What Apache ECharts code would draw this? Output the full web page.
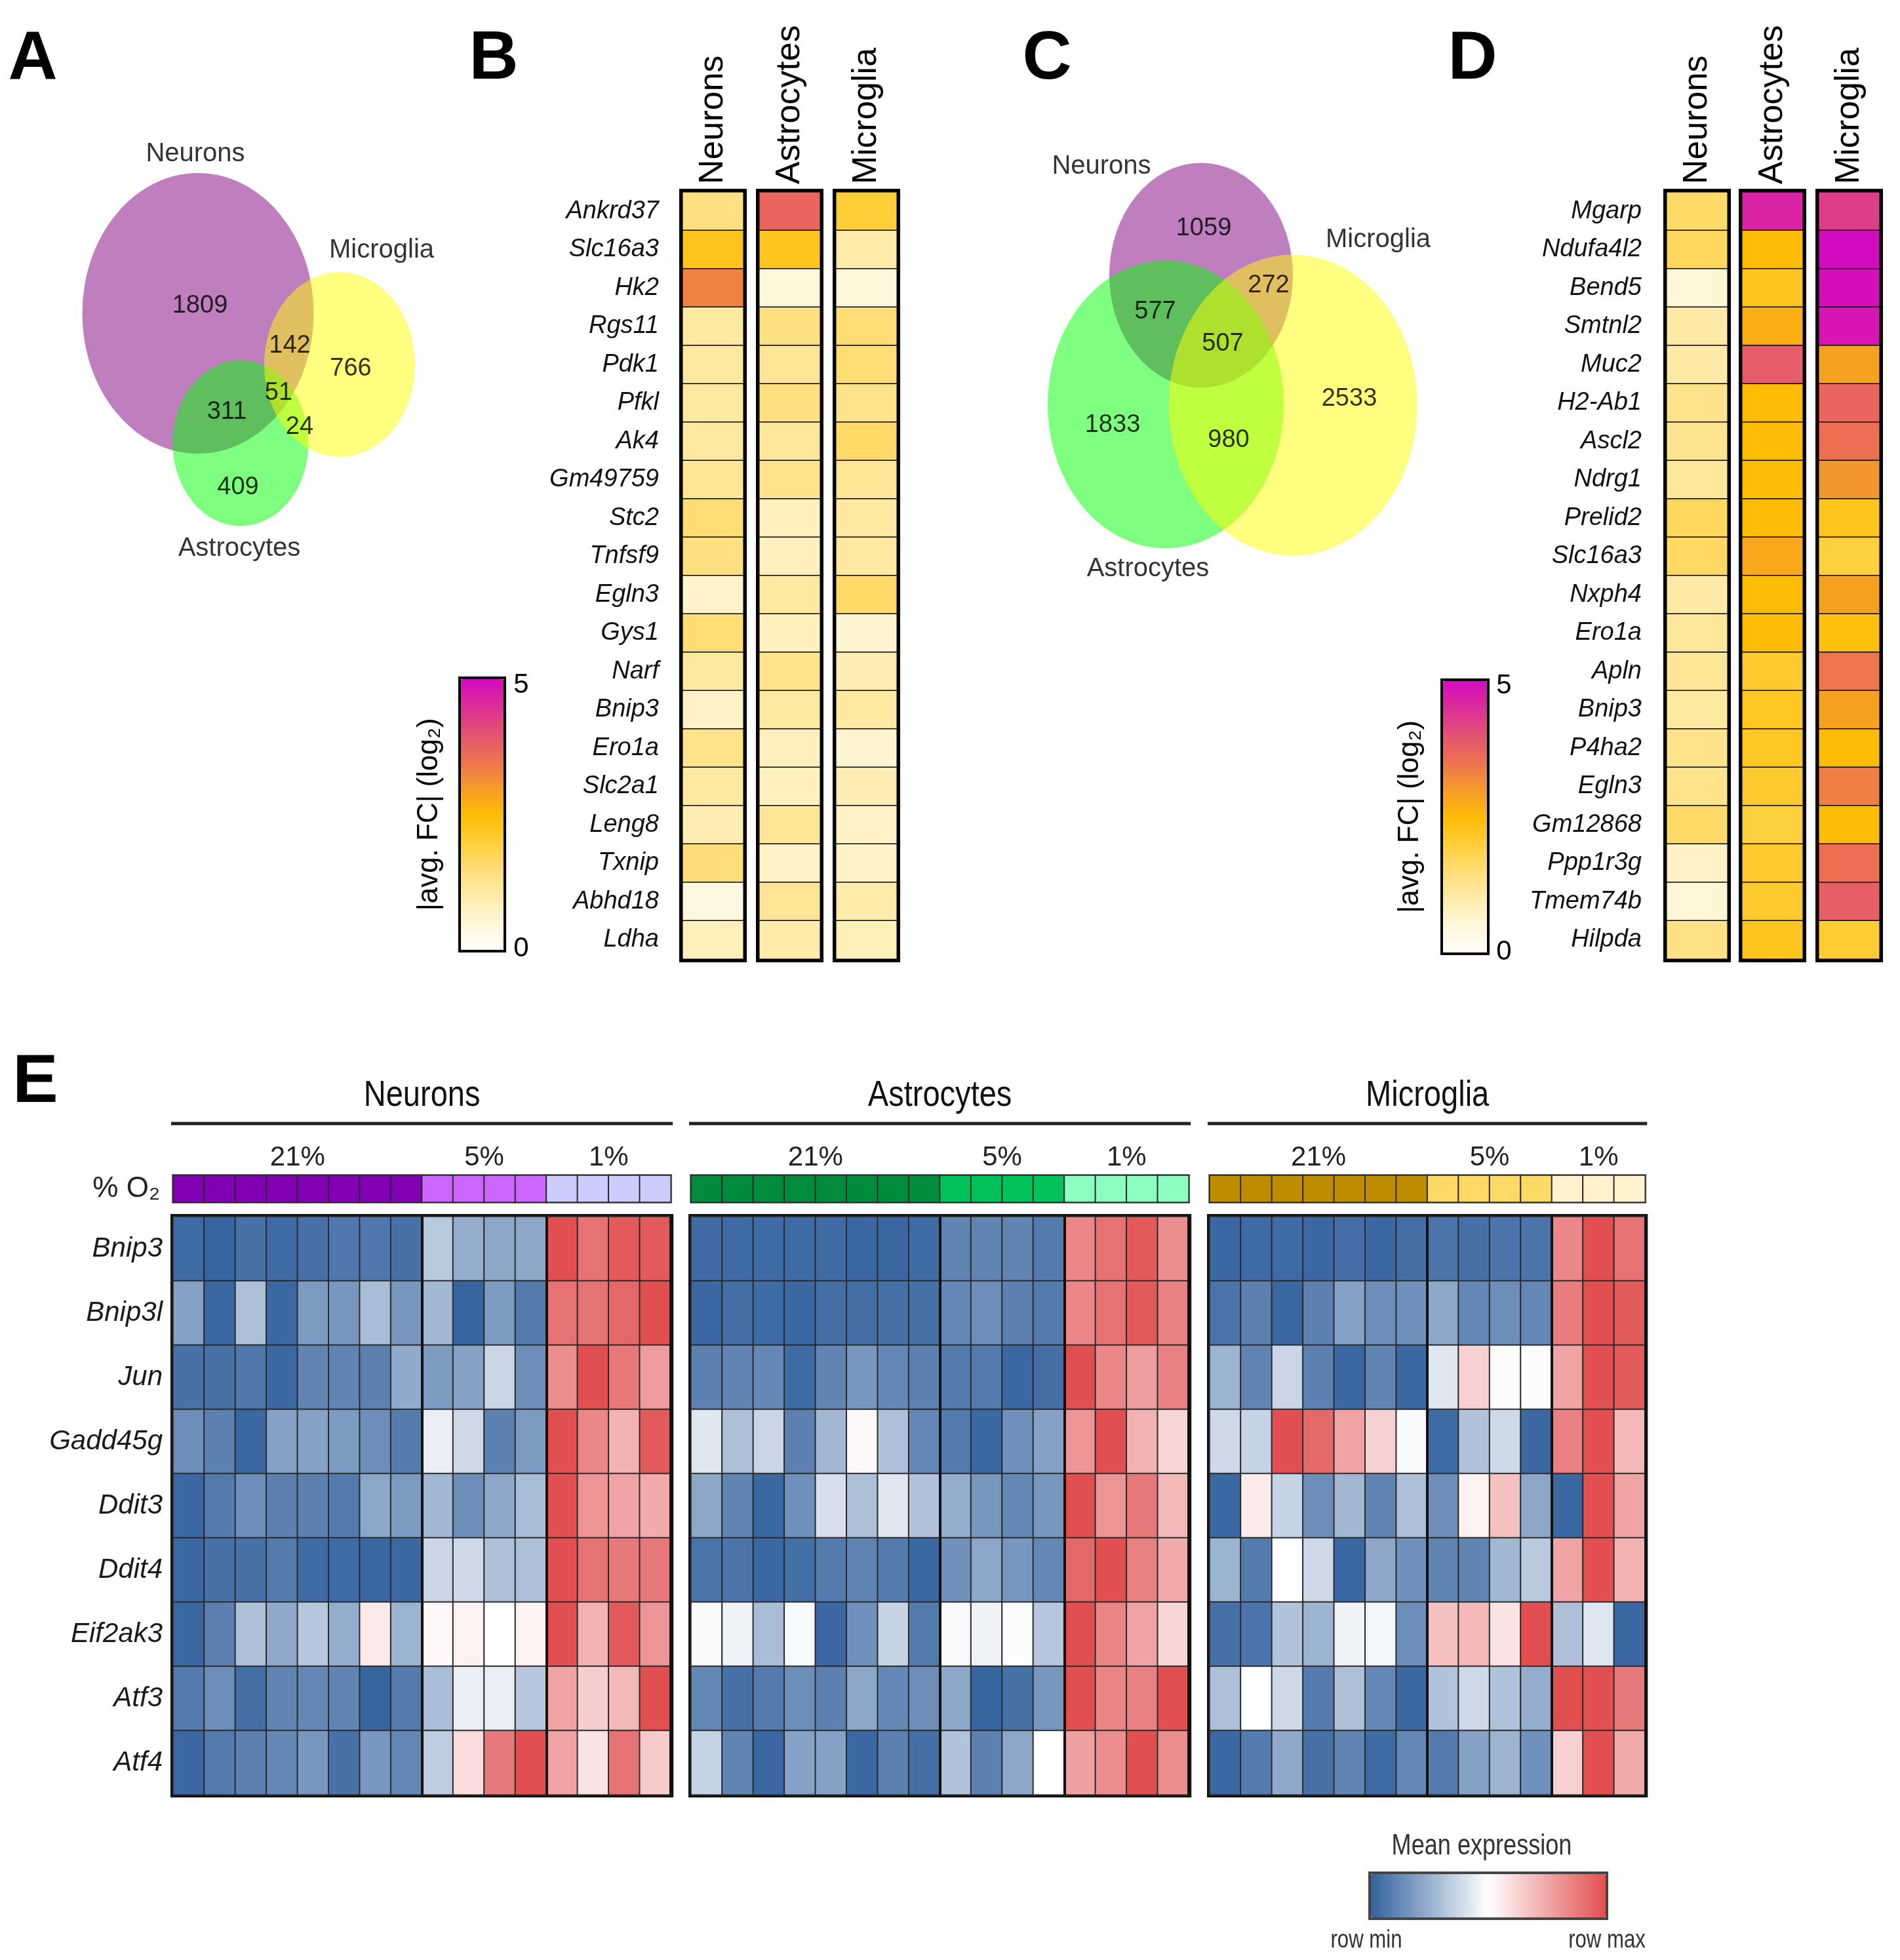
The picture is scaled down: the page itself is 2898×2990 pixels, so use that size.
<!DOCTYPE html>
<html><head><meta charset="utf-8">
<script src="https://cdn.jsdelivr.net/npm/echarts@6/dist/echarts.min.js"></script>
<style>html,body{margin:0;padding:0;background:#fff}#c{width:2898px;height:2990px}</style>
</head><body><div id="c"></div><script>
// ================= DATA =================
const cellTypes = ['Neurons', 'Astrocytes', 'Microglia'];
// Venn region order: [N only, A only, M only, N∩A, N∩M, A∩M, N∩A∩M]
const vennACounts = [1809, 409, 766, 311, 142, 24, 51];
const vennCCounts = [1059, 1833, 2533, 577, 272, 980, 507];

const genesB = ['Ankrd37','Slc16a3','Hk2','Rgs11','Pdk1','Pfkl','Ak4','Gm49759','Stc2','Tnfsf9','Egln3','Gys1','Narf','Bnip3','Ero1a','Slc2a1','Leng8','Txnip','Abhd18','Ldha'];
const fcBNeurons = [1.4,2.25,3.3,1.1,1.1,1.1,1.1,1.2,1.5,1.4,0.65,1.5,1.1,0.7,1.3,1.1,0.9,1.45,0.4,0.85];
const fcBAstro   = [3.7,2.25,0.5,1.4,1.2,1.4,1.15,1.3,0.8,0.8,1.1,0.8,1.3,1.1,0.8,0.8,1.2,0.7,1.2,1.0];
const fcBMicro   = [2.0,1.0,0.5,1.5,1.5,1.3,1.6,1.2,1.1,1.1,1.6,0.6,0.9,1.1,0.6,0.9,0.7,0.7,1.0,0.85];

const genesD = ['Mgarp','Ndufa4l2','Bend5','Smtnl2','Muc2','H2-Ab1','Ascl2','Ndrg1','Prelid2','Slc16a3','Nxph4','Ero1a','Apln','Bnip3','P4ha2','Egln3','Gm12868','Ppp1r3g','Tmem74b','Hilpda'];
const fcDNeurons = [1.6,1.7,0.55,1.05,1.05,1.3,1.25,1.15,1.7,1.65,1.05,1.15,1.2,1.1,1.3,1.3,1.6,0.7,0.55,1.35];
const fcDAstro   = [4.65,2.5,2.25,2.7,3.85,2.5,2.5,2.5,2.5,2.8,2.5,2.5,2.1,2.2,2.2,2.1,1.95,2.1,2.1,2.25];
const fcDMicro   = [4.3,5.0,4.95,4.85,2.9,3.7,3.55,3.05,2.25,1.95,2.9,2.4,3.45,2.9,2.5,3.35,2.5,3.55,3.8,2.05];
const fcTicks = ['0', '5'];

const genesE = ['Bnip3','Bnip3l','Jun','Gadd45g','Ddit3','Ddit4','Eif2ak3','Atf3','Atf4'];
const o2Levels = ['21%', '5%', '1%'];
const samplesPerLevel = [[8,4,4],[8,4,4],[7,4,3]];
const exprNeurons = [
  [0.03,0.01,0.05,0.03,0.05,0.07,0.07,0.05, 0.33,0.24,0.22,0.22, 1.0,0.9,0.97,0.97],
  [0.2,0.02,0.3,0.02,0.18,0.17,0.29,0.17, 0.27,0.01,0.18,0.08, 0.9,0.9,0.93,1.0],
  [0.05,0.05,0.07,0.02,0.11,0.11,0.1,0.23, 0.18,0.2,0.37,0.14, 0.82,1.0,0.88,0.78],
  [0.14,0.1,0.02,0.2,0.2,0.18,0.14,0.08, 0.45,0.38,0.1,0.18, 1.0,0.84,0.72,0.97],
  [0.02,0.08,0.14,0.1,0.1,0.08,0.22,0.18, 0.27,0.14,0.22,0.29, 1.0,0.8,0.76,0.74],
  [0.02,0.05,0.05,0.08,0.03,0.03,0.02,0.02, 0.37,0.38,0.3,0.3, 1.0,0.9,0.88,0.88],
  [0.02,0.1,0.3,0.23,0.32,0.24,0.56,0.26, 0.52,0.54,0.5,0.54, 1.0,0.72,0.97,0.8],
  [0.08,0.14,0.04,0.11,0.12,0.11,0.01,0.08, 0.29,0.45,0.45,0.32, 0.76,0.64,0.7,1.0],
  [0.02,0.08,0.1,0.12,0.17,0.05,0.17,0.12, 0.34,0.6,0.88,1.0, 0.76,0.58,0.9,0.65]
];
const exprAstro = [
  [0.03,0.03,0.03,0.03,0.03,0.02,0.02,0.03, 0.11,0.11,0.11,0.08, 0.84,0.9,0.97,0.82],
  [0.02,0.04,0.03,0.02,0.04,0.04,0.05,0.05, 0.12,0.14,0.1,0.08, 0.84,0.9,0.97,0.86],
  [0.1,0.11,0.12,0.03,0.11,0.17,0.12,0.1, 0.08,0.08,0.02,0.04, 1.0,0.84,0.78,0.86],
  [0.42,0.3,0.37,0.1,0.27,0.52,0.3,0.12, 0.08,0.02,0.15,0.2, 0.8,1.0,0.72,0.62],
  [0.22,0.11,0.02,0.15,0.4,0.3,0.42,0.31, 0.24,0.17,0.12,0.17, 1.0,0.8,0.88,0.7],
  [0.06,0.06,0.02,0.04,0.08,0.11,0.08,0.02, 0.15,0.22,0.17,0.12, 0.93,1.0,0.86,0.74],
  [0.48,0.46,0.29,0.48,0.02,0.15,0.36,0.08, 0.48,0.46,0.49,0.32, 1.0,0.85,0.76,0.62],
  [0.12,0.05,0.08,0.14,0.1,0.22,0.12,0.14, 0.22,0.01,0.05,0.17, 1.0,0.85,0.86,1.0],
  [0.36,0.11,0.02,0.2,0.2,0.02,0.1,0.04, 0.31,0.1,0.22,0.5, 0.77,0.82,1.0,0.82]
];
const exprMicro = [
  [0.02,0.03,0.03,0.02,0.04,0.02,0.04, 0.06,0.05,0.06,0.06, 0.84,1.0,0.9],
  [0.06,0.1,0.02,0.1,0.2,0.14,0.15, 0.22,0.12,0.14,0.12, 0.87,1.0,0.97],
  [0.26,0.11,0.37,0.1,0.02,0.11,0.02, 0.42,0.63,0.51,0.49, 0.76,1.0,0.97],
  [0.38,0.36,1.0,0.93,0.76,0.63,0.48, 0.03,0.31,0.38,0.02, 0.86,1.0,0.7],
  [0.02,0.56,0.36,0.14,0.27,0.11,0.3, 0.14,0.54,0.68,0.22, 0.02,1.0,0.76],
  [0.26,0.08,0.5,0.38,0.02,0.22,0.15, 0.11,0.11,0.27,0.33, 0.76,1.0,0.72],
  [0.05,0.06,0.31,0.26,0.46,0.47,0.14, 0.68,0.7,0.58,1.0, 0.3,0.42,0.02],
  [0.3,0.5,0.38,0.08,0.3,0.12,0.02, 0.31,0.38,0.31,0.24, 1.0,1.0,0.88],
  [0.02,0.08,0.23,0.05,0.11,0.03,0.12, 0.08,0.2,0.26,0.15, 0.63,1.0,0.74]
];

// ================= STYLE / LAYOUT =================
const FONT = "'Liberation Sans', Arial, Helvetica, sans-serif";
const NARROW = "'Liberation Sans Narrow', 'Arial Narrow', 'Liberation Sans', Arial, sans-serif";
const VENN_COLORS = ['#800080', '#00FF00', '#FFFF00'];
const FC_COLORS = ['#FFFEFA','#FFF7DA','#FFEBAA','#FFDD75','#FFCE38','#FEBC05','#F59A2A','#ED7250','#E35272','#DC2E98','#D40AC0'];
const EXPR_COLORS = ['#33629E', '#FFFFFF', '#E14F50'];
const STRIP_COLORS = [['#8200B4','#CC66FF','#CCCCFF'], ['#008C3C','#00C25A','#8CFFC0'], ['#BF8C00','#FFD966','#FFF2CC']];

const VENN_A = { grid:{left:100, top:180, width:620, height:720},
  ellipses:[[202,298,353,428],[267,496,207,253],[418,376,230,282]],
  regions:[[205,287],[263,564],[435,383],[246,449],[342,348],[357,472],[325,420]],
  names:[[198,55],[265,657],[482,202]] };
const VENN_C = { grid:{left:1560, top:180, width:660, height:720},
  ellipses:[[272,240,280,343],[218,437,360,439],[412,438,379,459]],
  regions:[[276,169],[137,469],[498,429],[202,296],[375,256],[314,492],[305,345]],
  names:[[120,74],[191,688],[542,186]] };
const FC_B = { lefts:[1041,1158,1275], width:93, top:293, height:1170, border:10, labelMargin:36, headMargin:12,
  bar:{left:703, top:1036, w:65, h:413}, frame:[701,1034,69,417], tickX:795, tickY:[1447,1045], titleX:655 };
const FC_D = { lefts:[2542,2657,2774], width:93, top:293, height:1170, border:10, labelMargin:38, headMargin:12,
  bar:{left:2201, top:1039, w:67, h:414}, frame:[2199,1037,71,418], tickX:2294, tickY:[1452,1046], titleX:2151 };
const E_L = { lefts:[264,1054,1845], colW:47.45, heatTop:1856, heatH:882, stripTop:1793, stripH:41, titleY:1672, lineY:1714 };

// ================= BUILD =================
const grids = [], xAxes = [], yAxes = [], series = [], visualMaps = [], graphics = [];
const noAxis = { axisLine:{show:false}, axisTick:{show:false}, splitLine:{show:false} };

function txt(x, y, text, size, opts) {
  opts = opts || {};
  return { type:'text', x:x, y:y, rotation:opts.rotation || 0, scaleX:opts.scaleX || 1, z:100, silent:true,
    style:{ text:text, fontSize:size, fontFamily:opts.family || FONT, fontWeight:opts.weight || 'normal',
      fill:opts.color || '#000', align:opts.align || 'center', verticalAlign:'middle',
      textAlign:opts.align || 'center', textVerticalAlign:'middle' } };
}

function addVenn(L, counts) {
  const gi = grids.length;
  grids.push(Object.assign({show:false}, L.grid));
  xAxes.push({type:'value', gridIndex:gi, min:0, max:L.grid.width, show:false});
  yAxes.push({type:'value', gridIndex:gi, min:0, max:L.grid.height, inverse:true, show:false});
  const xi = xAxes.length - 1, yi = yAxes.length - 1;
  series.push({ type:'scatter', xAxisIndex:xi, yAxisIndex:yi, silent:true, clip:false, symbol:'circle',
    symbolSize:(v, p) => L.ellipses[p.dataIndex].slice(2),
    data: cellTypes.map((c, i) => ({ name:c, value:L.ellipses[i].slice(0,2), itemStyle:{color:VENN_COLORS[i], opacity:0.5} })) });
  series.push({ type:'scatter', xAxisIndex:xi, yAxisIndex:yi, silent:true, clip:false, symbolSize:1,
    itemStyle:{color:'rgba(0,0,0,0)'},
    label:{show:true, position:'inside', formatter:'{b}', fontSize:38, color:'#000', fontFamily:FONT},
    data: counts.map((c, i) => ({ name:String(c), value:L.regions[i] })) });
  series.push({ type:'scatter', xAxisIndex:xi, yAxisIndex:yi, silent:true, clip:false, symbolSize:1,
    itemStyle:{color:'rgba(0,0,0,0)'},
    label:{show:true, position:'inside', formatter:'{b}', fontSize:40, color:'#000', fontFamily:FONT},
    data: cellTypes.map((c, i) => ({ name:c, value:L.names[i] })) });
}

function addFcPanel(P, genes, valueArrays) {
  const sIdx = [];
  cellTypes.forEach((ct, ci) => {
    const gi = grids.length;
    grids.push({ left:P.lefts[ci], top:P.top, width:P.width, height:P.height, show:true,
      borderColor:'#000', borderWidth:P.border, backgroundColor:'rgba(0,0,0,0)' });
    xAxes.push(Object.assign({ type:'category', gridIndex:gi, data:[ct], position:'top',
      axisLabel:{ rotate:-90, margin:P.headMargin, fontSize:52, color:'#000', fontFamily:FONT, interval:0 } }, noAxis));
    yAxes.push(Object.assign({ type:'category', gridIndex:gi, data:genes, inverse:true,
      axisLabel:{ show:ci === 0, interval:0, fontSize:38, fontStyle:'italic', color:'#111', fontFamily:FONT, margin:P.labelMargin } }, noAxis));
    series.push({ type:'heatmap', xAxisIndex:xAxes.length - 1, yAxisIndex:yAxes.length - 1, silent:true,
      data: valueArrays[ci].map((v, i) => [0, i, v]),
      itemStyle:{ borderColor:'#000', borderWidth:1.5 }, emphasis:{disabled:true} });
    sIdx.push(series.length - 1);
  });
  visualMaps.push({ type:'continuous', min:0, max:5, seriesIndex:sIdx, dimension:2, inRange:{color:FC_COLORS},
    calculable:false, orient:'vertical', left:P.bar.left, top:P.bar.top, itemWidth:P.bar.w, itemHeight:P.bar.h,
    padding:0, show:true, hoverLink:false });
  graphics.push({ type:'rect', z:100, silent:true, shape:{x:P.frame[0], y:P.frame[1], width:P.frame[2], height:P.frame[3]},
    style:{ fill:'none', stroke:'#000', lineWidth:4 } });
  graphics.push(txt(P.tickX, P.tickY[0], fcTicks[0], 42));
  graphics.push(txt(P.tickX, P.tickY[1], fcTicks[1], 42));
  graphics.push(txt(P.titleX, P.frame[1] + P.frame[3] / 2 + 0, '|avg. FC| (log\u2082)', 44, {rotation:Math.PI / 2}));
}

const exprAll = [exprNeurons, exprAstro, exprMicro];
const exprSeries = [], stripSeries = [];
cellTypes.forEach((ct, ci) => {
  const counts = samplesPerLevel[ci];
  const n = counts.reduce((a, b) => a + b, 0);
  const left = E_L.lefts[ci], width = n * E_L.colW;
  const samples = [];
  const levelOf = [];
  counts.forEach((c, li) => { for (let k = 0; k < c; k++) { samples.push(o2Levels[li] + ' #' + (k + 1)); levelOf.push(li); } });
  const bounds = [counts[0], counts[0] + counts[1]];
  const centers = {};
  let acc = 0;
  counts.forEach((c, li) => { centers[acc + c / 2] = o2Levels[li]; acc += c; });

  // heatmap grid
  let gi = grids.length;
  grids.push({ left:left, top:E_L.heatTop, width:width, height:E_L.heatH, show:true,
    borderColor:'#111', borderWidth:8, backgroundColor:'rgba(0,0,0,0)' });
  xAxes.push({ type:'category', gridIndex:gi, data:samples, z:5, axisLine:{show:false}, axisTick:{show:false},
    axisLabel:{show:false},
    splitLine:{ show:true, interval:(i) => bounds.indexOf(i) >= 0, lineStyle:{color:'#111', width:4} } });
  yAxes.push(Object.assign({ type:'category', gridIndex:gi, data:genesE, inverse:true,
    axisLabel:{ show:ci === 0, interval:0, fontSize:42, fontStyle:'italic', color:'#1a1a1a', fontFamily:FONT, margin:16 } }, noAxis));
  const rows = exprAll[ci];
  const hd = [];
  rows.forEach((r, ri) => r.forEach((v, si) => hd.push([si, ri, v])));
  series.push({ type:'heatmap', xAxisIndex:xAxes.length - 1, yAxisIndex:yAxes.length - 1, silent:true, data:hd,
    itemStyle:{ borderColor:'#2a2a2a', borderWidth:2 }, emphasis:{disabled:true} });
  exprSeries.push(series.length - 1);

  // O2 strip grid
  gi = grids.length;
  grids.push({ left:left, top:E_L.stripTop, width:width, height:E_L.stripH, show:true,
    borderColor:'#999', borderWidth:4, backgroundColor:'rgba(0,0,0,0)' });
  xAxes.push(Object.assign({ type:'category', gridIndex:gi, data:samples, position:'bottom', axisLabel:{show:false} }, noAxis));
  const stripX = xAxes.length - 1;
  xAxes.push(Object.assign({ type:'value', gridIndex:gi, position:'top', min:0, max:n, interval:0.5,
    axisLabel:{ show:true, margin:6, fontSize:42, color:'#222', fontFamily:NARROW,
      formatter:(v) => centers[v] || '' } }, noAxis));
  yAxes.push(Object.assign({ type:'category', gridIndex:gi, data:['% O\u2082'],
    axisLabel:{ show:ci === 0, fontSize:44, color:'#222', fontFamily:FONT, margin:20 } }, noAxis));
  series.push({ type:'heatmap', xAxisIndex:stripX, yAxisIndex:yAxes.length - 1, silent:true,
    data: levelOf.map((li, si) => [si, 0, ci * 3 + li]),
    itemStyle:{ borderColor:'#2a2a2a', borderWidth:2 }, emphasis:{disabled:true} });
  stripSeries.push(series.length - 1);

  // cell-type title and rule
  graphics.push(txt(left + width / 2, E_L.titleY, ct, 56, {family:NARROW, color:'#111', scaleX:0.84}));
  graphics.push({ type:'line', z:100, silent:true, shape:{x1:left - 3, y1:E_L.lineY, x2:left + width + 3, y2:E_L.lineY},
    style:{ stroke:'#222', lineWidth:5 } });
});

addVenn(VENN_A, vennACounts);
addVenn(VENN_C, vennCCounts);
addFcPanel(FC_B, genesB, [fcBNeurons, fcBAstro, fcBMicro]);
addFcPanel(FC_D, genesD, [fcDNeurons, fcDAstro, fcDMicro]);

visualMaps.push({ type:'continuous', min:0, max:1, seriesIndex:exprSeries, dimension:2, inRange:{color:EXPR_COLORS},
  calculable:false, orient:'horizontal', left:2091, top:2859, itemWidth:66, itemHeight:358, padding:0, show:true, hoverLink:false });
visualMaps.push({ type:'piecewise', show:false, dimension:2, seriesIndex:stripSeries,
  pieces: [].concat(...STRIP_COLORS).map((c, k) => ({ value:k, color:c })) });
graphics.push({ type:'rect', z:100, silent:true, shape:{x:2089, y:2857, width:362, height:70}, style:{ fill:'none', stroke:'#444', lineWidth:4 } });
graphics.push(txt(2260, 2817, 'Mean expression', 44, {family:NARROW, color:'#333', scaleX:0.82}));
graphics.push(txt(2084, 2961, 'row min', 38, {family:NARROW, color:'#333', scaleX:0.82}));
graphics.push(txt(2451, 2961, 'row max', 38, {family:NARROW, color:'#333', scaleX:0.82}));

// panel letters
[['A',50,91],['B',753,91],['C',1597,91],['D',2246,91],['E',54,1652]].forEach(p =>
  graphics.push(txt(p[1], p[2], p[0], 104, {weight:'bold'})));

const chart = echarts.init(document.getElementById('c'), null, {renderer:'canvas', width:2898, height:2990});
chart.setOption({ animation:false, backgroundColor:'#fff', grid:grids, xAxis:xAxes, yAxis:yAxes,
  series:series, visualMap:visualMaps, graphic:{elements:graphics} });
</script></body></html>
